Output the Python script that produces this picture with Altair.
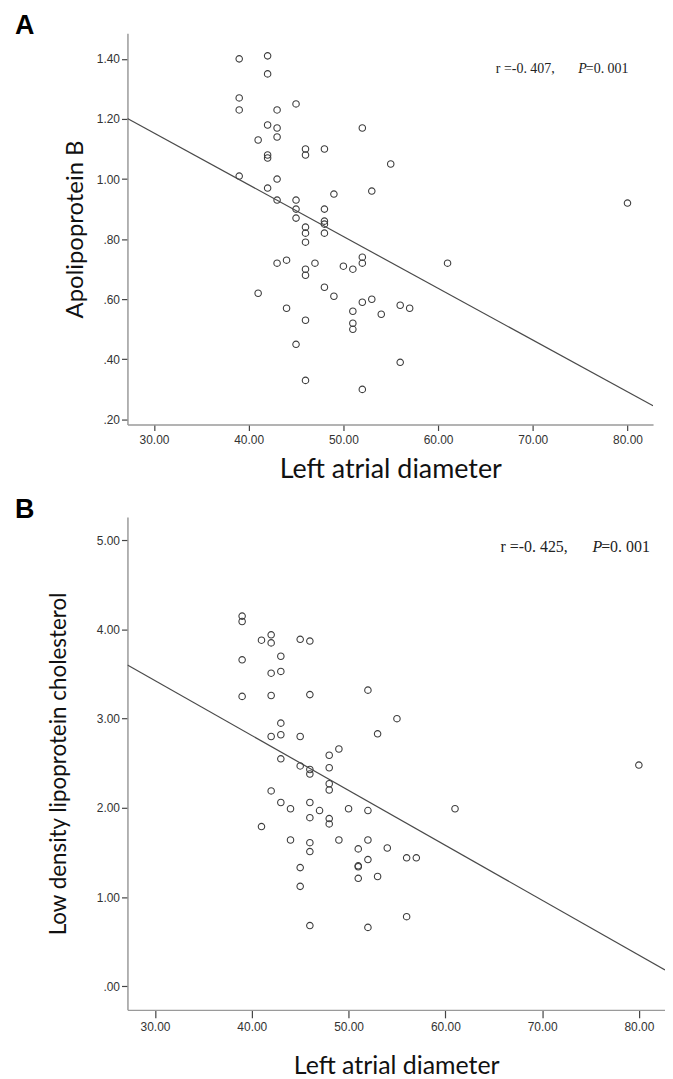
import altair as alt
import pandas as pd

# Left atrial diameter (same patients in both panels)
la_diameter = [39, 39, 39, 39,
               41, 41,
               42, 42, 42, 42, 42, 42,
               43, 43, 43, 43, 43, 43,
               44, 44,
               45, 45, 45, 45, 45,
               46, 46, 46, 46, 46, 46, 46, 46, 46,
               47,
               48, 48, 48, 48, 48, 48,
               49, 49,
               50,
               51, 51, 51, 51,
               52, 52, 52, 52, 52,
               53, 53,
               54,
               55,
               56, 56,
               57,
               61,
               80]

apolipoprotein_b = [1.40, 1.27, 1.23, 1.01,
                    1.13, 0.62,
                    1.41, 1.35, 1.18, 1.08, 1.07, 0.97,
                    1.23, 1.17, 1.14, 1.00, 0.93, 0.72,
                    0.73, 0.57,
                    1.25, 0.93, 0.90, 0.87, 0.45,
                    1.10, 1.08, 0.84, 0.82, 0.79, 0.70, 0.68, 0.53, 0.33,
                    0.72,
                    1.10, 0.90, 0.86, 0.85, 0.82, 0.64,
                    0.95, 0.61,
                    0.71,
                    0.70, 0.56, 0.52, 0.50,
                    1.17, 0.74, 0.72, 0.59, 0.30,
                    0.96, 0.60,
                    0.55,
                    1.05,
                    0.58, 0.39,
                    0.57,
                    0.72,
                    0.92]

ldl_cholesterol = [4.15, 4.09, 3.66, 3.25,
                   3.88, 1.79,
                   3.94, 3.85, 3.51, 3.26, 2.80, 2.19,
                   3.70, 3.53, 2.95, 2.82, 2.55, 2.06,
                   1.99, 1.64,
                   3.89, 2.80, 2.47, 1.33, 1.12,
                   3.87, 3.27, 2.43, 2.38, 2.06, 1.89, 1.61, 1.51, 0.68,
                   1.97,
                   2.59, 2.45, 2.27, 2.20, 1.88, 1.82,
                   2.66, 1.64,
                   1.99,
                   1.54, 1.35, 1.34, 1.21,
                   3.32, 1.97, 1.64, 1.42, 0.66,
                   2.83, 1.23,
                   1.55,
                   3.00,
                   1.44, 0.78,
                   1.44,
                   1.99,
                   2.48]

x_ticks = [30, 40, 50, 60, 70, 80]
apob_ticks = [0.2, 0.4, 0.6, 0.8, 1.0, 1.2, 1.4]
ldl_ticks = [0, 1, 2, 3, 4, 5]

panel_letters = ["A", "B"]
y_titles = ["Apolipoprotein B", "Low density lipoprotein cholesterol"]
x_title = "Left atrial diameter"
stat_r = ["r =-0. 407,", "r =-0. 425,"]
stat_p_letter = ["P", "P"]
stat_p_value = ["=0. 001", "=0. 001"]

LABEL_EXPR = ("datum.value < 1 ? substring(format(datum.value, '.2f'), 1) "
              ": format(datum.value, '.2f')")
TICK_FONT = "'Liberation Sans Narrow', 'Liberation Sans', Arial, sans-serif"
TITLE_FONT = "Lato, 'Open Sans', sans-serif"
SERIF = "'Liberation Serif', 'DejaVu Serif', serif"


def text_layer(x, y, txt, xscale, yscale, size, italic=False):
    kw = dict(font=SERIF, fontSize=size, align="left", baseline="middle",
              color="#222")
    if italic:
        kw["fontStyle"] = "italic"
    return alt.Chart(pd.DataFrame({"x": [x], "y": [y], "t": [txt]})).mark_text(
        **kw).encode(x=alt.X("x:Q", scale=xscale),
                     y=alt.Y("y:Q", scale=yscale), text="t:N")


def make_panel(yvals, ydom, yticks, ytitle, letter, r_txt, p_let, p_val,
               xdom, width, height, r_x, p_x, v_x, stat_y, stat_size,
               ytitle_size, ytitle_pad, xtitle_size, xtitle_pad, xtick_size):
    df = pd.DataFrame({"la": la_diameter, "val": yvals})
    xscale = alt.Scale(domain=xdom, nice=False, zero=False)
    yscale = alt.Scale(domain=ydom, nice=False, zero=False)

    x_axis = alt.Axis(values=x_ticks, format=".2f", title=x_title,
                      titleFont=TITLE_FONT, titleFontSize=xtitle_size,
                      titleFontWeight="normal", titleColor="#111",
                      titlePadding=xtitle_pad,
                      labelFont=TICK_FONT, labelFontSize=12, labelColor="#333",
                      labelPadding=4,
                      tickColor="#444", tickSize=xtick_size, tickWidth=1.2,
                      domainColor="#9a9a9a", domainWidth=1.5, grid=False)
    y_axis = alt.Axis(values=yticks, labelExpr=LABEL_EXPR, title=ytitle,
                      titleFont=TITLE_FONT, titleFontSize=ytitle_size,
                      titleFontWeight="normal", titleColor="#111",
                      titlePadding=ytitle_pad,
                      labelFont=TICK_FONT, labelFontSize=12, labelColor="#333",
                      labelPadding=2,
                      tickColor="#444", tickSize=6, tickWidth=1.2,
                      domainColor="#9a9a9a", domainWidth=1.5, grid=False)

    base = alt.Chart(df)
    points = base.mark_point(shape="circle", filled=False, size=42,
                             color="#3c3c3c", strokeWidth=1.1, opacity=1).encode(
        x=alt.X("la:Q", scale=xscale, axis=x_axis),
        y=alt.Y("val:Q", scale=yscale, axis=y_axis),
    )
    line = base.transform_regression("la", "val", extent=xdom).mark_line(
        color="#4a4a4a", strokeWidth=1.2, clip=True).encode(
        x=alt.X("la:Q", scale=xscale),
        y=alt.Y("val:Q", scale=yscale),
    )
    letter_mark = alt.Chart(pd.DataFrame({"t": [letter]})).mark_text(
        font="'Liberation Sans', Arial, sans-serif", fontSize=27,
        fontWeight="bold", align="left", baseline="alphabetic",
        color="#000").encode(text="t:N", x=alt.value(-113), y=alt.value(1))
    r_mark = text_layer(r_x, stat_y, r_txt, xscale, yscale, stat_size)
    p_mark = text_layer(p_x, stat_y, p_let, xscale, yscale, stat_size, True)
    v_mark = text_layer(v_x, stat_y, p_val, xscale, yscale, stat_size)

    return alt.layer(points, line, letter_mark, r_mark, p_mark, v_mark).properties(
        width=width, height=height)


panel_a = make_panel(apolipoprotein_b, [0.183, 1.485], apob_ticks, y_titles[0],
                     panel_letters[0], stat_r[0], stat_p_letter[0], stat_p_value[0],
                     [27.2, 82.7], 528, 393, 66.1, 74.8, 75.6, 1.366, 14,
                     24, 9, 27, 11, 6)
panel_b = make_panel(ldl_cholesterol, [-0.265, 5.26], ldl_ticks, y_titles[1],
                     panel_letters[1], stat_r[1], stat_p_letter[1], stat_p_value[1],
                     [27.15, 82.7], 540, 495, 65.7, 75.2, 76.1, 4.92, 16,
                     22.5, 26, 25, 21, 8)

chart = alt.vconcat(panel_a, panel_b, spacing=14).properties(
    padding={"left": 7, "top": 2, "right": 0, "bottom": 0},
    background="white",
).configure_view(stroke=None)

chart.save("out.html", embed_options={"renderer": "svg", "actions": False})
